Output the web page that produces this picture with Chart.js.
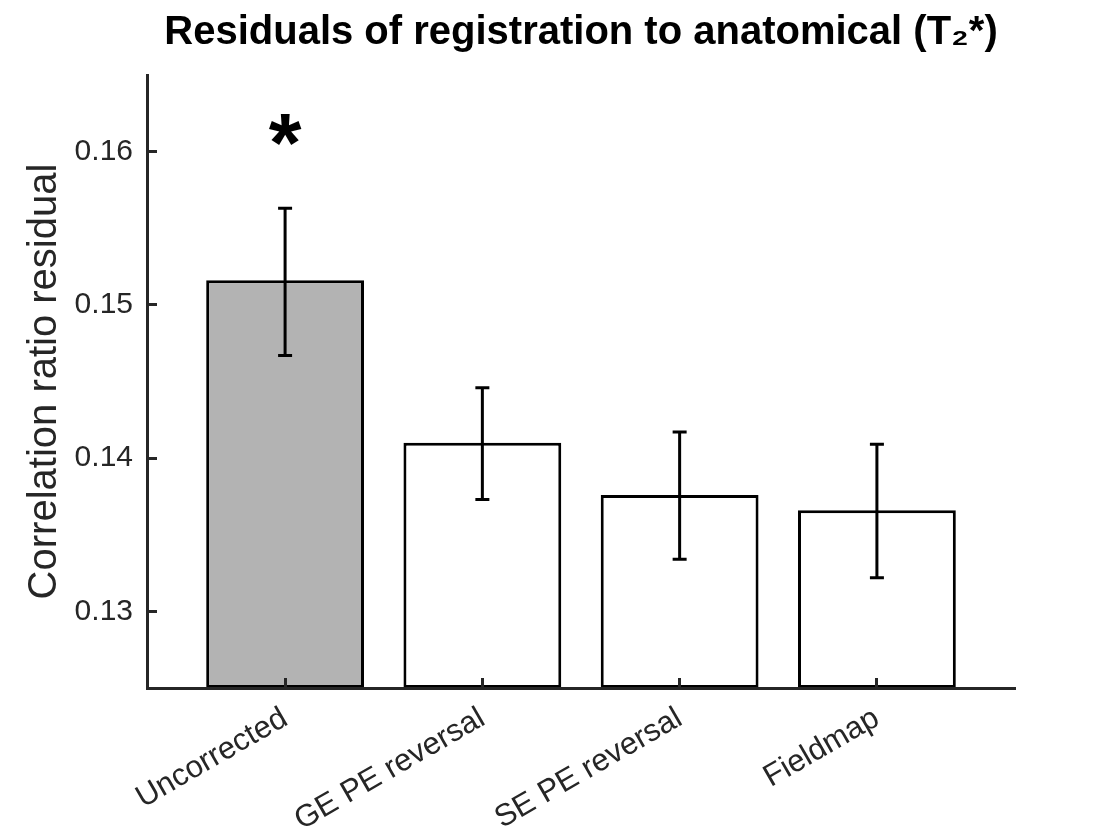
<!DOCTYPE html>
<html>
<head>
<meta charset="utf-8">
<script src="https://cdn.jsdelivr.net/npm/chart.js@4.4.1/dist/chart.umd.min.js"></script>
<style>
  html, body { margin: 0; padding: 0; background: #fff; }
  #wrap { width: 1120px; height: 840px; }
</style>
</head>
<body>
<div id="wrap"><canvas id="residual-chart"></canvas></div>
<script>
// values
var categories = ['Uncorrected', 'GE PE reversal', 'SE PE reversal', 'Fieldmap'];
var residuals = [0.1516, 0.1410, 0.1376, 0.1366];
var errLow = [0.1467, 0.1373, 0.1334, 0.1322];
var errHigh = [0.1563, 0.1446, 0.1417, 0.1409];
var significance = ['*', '', '', ''];
var yTicks = [0.13, 0.14, 0.15, 0.16];
var barColors = ['#b3b3b3', '#ffffff', '#ffffff', '#ffffff'];

var axisColor = '#262626';

var points = residuals.map(function (v, i) { return { x: i + 1, y: v }; });

// error bars + significance star, drawn through the chart's scales
var errorBars = {
    id: 'errorBars',
    afterDatasetsDraw: function (chart) {
        var ctx = chart.ctx;
        var xs = chart.scales.x, ys = chart.scales.y;
        ctx.save();
        ctx.strokeStyle = '#000';
        ctx.lineWidth = 3;
        for (var i = 0; i < residuals.length; i++) {
            var px = xs.getPixelForValue(i + 1);
            var lo = ys.getPixelForValue(errLow[i]);
            var hi = ys.getPixelForValue(errHigh[i]);
            ctx.beginPath();
            ctx.moveTo(px, lo); ctx.lineTo(px, hi);
            ctx.moveTo(px - 7, lo); ctx.lineTo(px + 7, lo);
            ctx.moveTo(px - 7, hi); ctx.lineTo(px + 7, hi);
            ctx.stroke();

            if (significance[i]) {
                ctx.font = 'bold 84px "Liberation Sans", Arial, sans-serif';
                ctx.fillStyle = '#000';
                ctx.textAlign = 'center';
                ctx.textBaseline = 'alphabetic';
                var m = ctx.measureText(significance[i]);
                var top = ys.getPixelForValue(errHigh[i]) - 94;
                ctx.fillText(significance[i], px, top + m.actualBoundingBoxAscent);
            }
        }
        ctx.restore();
    }
};

var ctx = document.getElementById('residual-chart').getContext('2d');

var chart = new Chart(ctx, {
    type: 'bar',
    data: {
        datasets: [{
            data: points,
            backgroundColor: barColors,
            borderColor: '#000',
            borderWidth: 3,
            borderSkipped: false,
            base: 0.125,
            categoryPercentage: 1,
            barPercentage: 0.8
        }]
    },
    options: {
        responsive: true,
        maintainAspectRatio: false,
        animation: false,
        layout: { padding: { top: 0, right: 105, bottom: 0, left: 0 } },
        plugins: {
            legend: { display: false },
            tooltip: { enabled: false },
            title: {
                display: true,
                fullSize: false,
                text: 'Residuals of registration to anatomical (T\u2082*)',
                color: '#000',
                font: { family: '"Liberation Sans", Arial, sans-serif', size: 40, weight: 'bold' },
                padding: { top: 9, bottom: 18 }
            }
        },
        scales: {
            x: {
                type: 'linear',
                offset: false,
                min: 0.3,
                max: 4.7,
                afterBuildTicks: function (scale) {
                    scale.ticks = categories.map(function (c, i) { return { value: i + 1 }; });
                },
                afterFit: function (scale) { scale.height = 152; },
                ticks: {
                    color: axisColor,
                    minRotation: 30,
                    maxRotation: 30,
                    padding: 22,
                    font: { family: '"Liberation Sans", Arial, sans-serif', size: 31 },
                    callback: function (v) { return categories[v - 1]; }
                },
                grid: { display: true, z: 1, offset: false, drawOnChartArea: false, drawTicks: true, tickLength: -10, tickWidth: 3, color: axisColor },
                border: { display: true, z: 1, color: axisColor, width: 3 }
            },
            y: {
                min: 0.125,
                max: 0.165,
                afterBuildTicks: function (scale) {
                    scale.ticks = yTicks.map(function (v) { return { value: v }; });
                },
                afterFit: function (scale) { scale.width = 147; },
                ticks: {
                    color: axisColor,
                    padding: 24,
                    font: { family: '"Liberation Sans", Arial, sans-serif', size: 30 },
                    callback: function (v) { return v.toFixed(2); }
                },
                grid: { display: true, z: 1, drawOnChartArea: false, drawTicks: true, tickLength: -10, tickWidth: 3, color: axisColor },
                border: { display: true, z: 1, color: axisColor, width: 3 },
                title: {
                    display: true,
                    text: 'Correlation ratio residual',
                    color: axisColor,
                    font: { family: '"Liberation Sans", Arial, sans-serif', size: 40 },
                    padding: { top: 21, bottom: 0 }
                }
            }
        }
    },
    plugins: [errorBars]
});
</script>
</body>
</html>
